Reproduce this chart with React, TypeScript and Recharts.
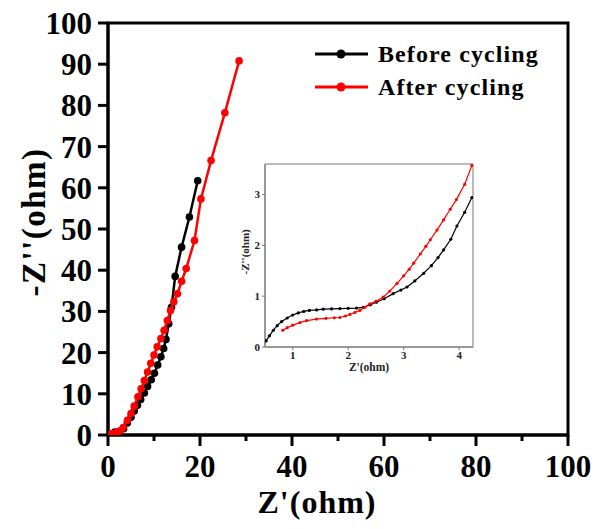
import React from "react";
import {
  Label,
  ReferenceArea,
  Scatter,
  ScatterChart,
  XAxis,
  YAxis,
} from "recharts";

const FONT = '"Liberation Serif", "Times New Roman", serif';

// main plot, Z' vs -Z'' (ohm)
const beforeMain = [
  { x: 0.52, y: 0.12 }, { x: 1.5, y: 0.73 }, { x: 2.5, y: 0.88 }, { x: 3.4, y: 1.5 },
  { x: 4.2, y: 2.9 }, { x: 5.0, y: 4.3 }, { x: 5.7, y: 5.8 }, { x: 6.4, y: 7.2 },
  { x: 7.1, y: 8.6 }, { x: 7.9, y: 10.2 }, { x: 8.6, y: 11.8 }, { x: 9.4, y: 13.4 },
  { x: 10.1, y: 15 }, { x: 10.8, y: 17 }, { x: 11.5, y: 19 }, { x: 12.1, y: 21 },
  { x: 12.6, y: 23.2 }, { x: 13.2, y: 27 }, { x: 13.8, y: 31 }, { x: 14.6, y: 38.5 },
  { x: 16.0, y: 45.6 }, { x: 17.7, y: 52.9 }, { x: 19.5, y: 61.7 },
];

const afterMain = [
  { x: 0.82, y: 0.33 }, { x: 1.8, y: 0.58 }, { x: 2.6, y: 0.98 }, { x: 3.3, y: 1.83 },
  { x: 4.23, y: 3.57 }, { x: 5.0, y: 5.2 }, { x: 5.7, y: 7.0 }, { x: 6.5, y: 9.3 },
  { x: 7.2, y: 11.2 }, { x: 7.9, y: 13.2 }, { x: 8.6, y: 15.3 }, { x: 9.3, y: 17.4 },
  { x: 10.0, y: 19.4 }, { x: 10.7, y: 21.4 }, { x: 11.5, y: 23.4 }, { x: 12.2, y: 25.4 },
  { x: 12.9, y: 27.8 }, { x: 13.6, y: 30.2 }, { x: 14.3, y: 32.3 }, { x: 15.1, y: 34.3 },
  { x: 16.0, y: 37.3 }, { x: 17.0, y: 40.4 }, { x: 18.8, y: 47.2 }, { x: 20.2, y: 57.3 },
  { x: 22.4, y: 66.6 }, { x: 25.4, y: 78.2 }, { x: 28.5, y: 90.8 },
];

// inset, high-frequency region
const beforeInset = [
  { x: 0.52, y: 0.12 }, { x: 0.58, y: 0.22 }, { x: 0.65, y: 0.33 }, { x: 0.72, y: 0.42 },
  { x: 0.8, y: 0.5 }, { x: 0.9, y: 0.57 }, { x: 1.0, y: 0.63 }, { x: 1.1, y: 0.67 },
  { x: 1.2, y: 0.7 }, { x: 1.3, y: 0.72 }, { x: 1.43, y: 0.73 }, { x: 1.55, y: 0.745 },
  { x: 1.7, y: 0.75 }, { x: 1.85, y: 0.755 }, { x: 2.0, y: 0.76 }, { x: 2.15, y: 0.765 },
  { x: 2.27, y: 0.78 }, { x: 2.4, y: 0.83 }, { x: 2.51, y: 0.88 }, { x: 2.65, y: 0.95 },
  { x: 2.81, y: 1.05 }, { x: 2.95, y: 1.12 }, { x: 3.06, y: 1.18 }, { x: 3.2, y: 1.3 },
  { x: 3.36, y: 1.45 }, { x: 3.5, y: 1.6 }, { x: 3.62, y: 1.76 }, { x: 3.72, y: 1.91 },
  { x: 3.85, y: 2.12 }, { x: 3.96, y: 2.38 }, { x: 4.1, y: 2.65 }, { x: 4.23, y: 2.94 },
];

const afterInset = [
  { x: 0.82, y: 0.33 }, { x: 0.9, y: 0.38 }, { x: 1.0, y: 0.43 }, { x: 1.13, y: 0.48 },
  { x: 1.25, y: 0.52 }, { x: 1.43, y: 0.55 }, { x: 1.6, y: 0.565 }, { x: 1.75, y: 0.575 },
  { x: 1.85, y: 0.58 }, { x: 1.95, y: 0.61 }, { x: 2.03, y: 0.64 }, { x: 2.12, y: 0.68 },
  { x: 2.21, y: 0.72 }, { x: 2.3, y: 0.78 }, { x: 2.39, y: 0.85 }, { x: 2.5, y: 0.9 },
  { x: 2.63, y: 0.98 }, { x: 2.75, y: 1.1 }, { x: 2.88, y: 1.25 }, { x: 3.0, y: 1.4 },
  { x: 3.1, y: 1.53 }, { x: 3.18, y: 1.65 }, { x: 3.3, y: 1.83 }, { x: 3.4, y: 1.98 },
  { x: 3.48, y: 2.11 }, { x: 3.6, y: 2.3 }, { x: 3.72, y: 2.5 }, { x: 3.84, y: 2.71 },
  { x: 3.95, y: 2.9 }, { x: 4.1, y: 3.2 }, { x: 4.23, y: 3.57 },
];

const xTicks = [0, 10, 20, 30, 40, 50, 60, 70, 80, 90, 100];
const yTicks = [0, 10, 20, 30, 40, 50, 60, 70, 80, 90, 100];
const insetXTicks = [1, 2, 3, 4];
const insetYTicks = [0, 1, 2, 3];

const seriesNames = ["Before cycling", "After cycling"];
const seriesColors = ["#000000", "#ff0000"];

const dot = (color: string, r: number) => (props: any) =>
  <circle cx={props.cx} cy={props.cy} r={r} fill={color} stroke="none" />;

// tickSize/tickMargin are 0 on this axis, so props.y is the axis line itself
function MainXTick(props: any) {
  const { x, y, payload } = props;
  const major = payload.value % 20 === 0;
  return (
    <g>
      <line x1={x} x2={x} y1={y} y2={y + (major ? 11 : 6)} stroke="#000" strokeWidth={3} />
      {major && (
        <text x={x} y={y + 42} textAnchor="middle" fontFamily={FONT} fontWeight="bold" fontSize={31} fill="#000">
          {payload.value}
        </text>
      )}
    </g>
  );
}

function LegendBox() {
  return (
    <svg width={240} height={70}>
      {seriesNames.map((name, i) => (
        <g key={name} transform={`translate(0, ${14 + i * 33})`}>
          <line x1={2} x2={55} y1={0} y2={0} stroke={seriesColors[i]} strokeWidth={3} />
          <circle cx={28} cy={0} r={4.5} fill={seriesColors[i]} />
          <text x={65} y={0} dy="0.35em" fontFamily={FONT} fontWeight="bold" fontSize={24} letterSpacing={1.1} fill="#000">
            {name}
          </text>
        </g>
      ))}
    </svg>
  );
}

function Inset() {
  const tickStyle = { fontFamily: FONT, fontWeight: "bold" as const, fontSize: 11, fill: "#222" };
  const axisStyle = { stroke: "#777", strokeWidth: 1 };
  return (
    <ScatterChart width={270} height={235} margin={{ top: 14, right: 12, bottom: 8, left: 0 }}>
      <XAxis
        type="number"
        dataKey="x"
        domain={[0.5, 4.25]}
        ticks={insetXTicks}
        interval={0}
        allowDataOverflow
        height={30}
        tickSize={3}
        tickMargin={1}
        tick={tickStyle}
        tickLine={axisStyle}
        axisLine={axisStyle}
      >
        <Label
          content={(p: any) => (
            <text x={p.viewBox.x + p.viewBox.width / 2} y={p.viewBox.y + 24} textAnchor="middle" fontFamily={FONT} fontWeight="bold" fontSize={11.5} fill="#222">
              Z'(ohm)
            </text>
          )}
        />
      </XAxis>
      <YAxis
        type="number"
        dataKey="y"
        domain={[0, 3.6]}
        ticks={insetYTicks}
        interval={0}
        allowDataOverflow
        width={50}
        tickSize={3}
        tickMargin={2}
        tick={tickStyle}
        tickLine={axisStyle}
        axisLine={axisStyle}
      >
        <Label
          content={(p: any) => {
            const cx = 30;
            const cy = p.viewBox.y + p.viewBox.height * 0.48;
            return (
              <text x={cx} y={cy} transform={`rotate(-90 ${cx} ${cy})`} textAnchor="middle" dominantBaseline="central" fontFamily={FONT} fontWeight="bold" fontSize={11} fill="#222">
                -Z''(ohm)
              </text>
            );
          }}
        />
      </YAxis>
      <ReferenceArea x1={0.5} x2={4.25} y1={0} y2={3.6} fill="#fff" fillOpacity={0} stroke="#777" strokeWidth={1} ifOverflow="visible" />
      <Scatter data={beforeInset} line={{ stroke: "#000", strokeWidth: 1.2 }} shape={dot("#000", 1.6)} isAnimationActive={false} />
      <Scatter data={afterInset} line={{ stroke: "#ff0000", strokeWidth: 1.2 }} shape={dot("#ff0000", 1.6)} isAnimationActive={false} />
    </ScatterChart>
  );
}

export default function App() {
  return (
    <div style={{ position: "absolute", left: 0, top: 0, width: 598, height: 529, background: "#fff" }}>
      <ScatterChart width={598} height={529} margin={{ top: 23, right: 30, bottom: 34, left: 0 }}>
        <XAxis
          type="number"
          dataKey="x"
          domain={[0, 100]}
          ticks={xTicks}
          interval={0}
          allowDataOverflow
          height={60}
          tickSize={0}
          tickMargin={0}
          tickLine={false}
          tick={<MainXTick />}
          axisLine={{ stroke: "#000", strokeWidth: 3 }}
        >
          <Label
            content={(p: any) => (
              <text x={317} y={p.viewBox.y + 78} textAnchor="middle" fontFamily={FONT} fontWeight="bold" fontSize={32} letterSpacing={1} fill="#000">
                Z'(ohm)
              </text>
            )}
          />
        </XAxis>
        <YAxis
          type="number"
          dataKey="y"
          domain={[0, 100]}
          ticks={yTicks}
          interval={0}
          allowDataOverflow
          width={108}
          tickSize={10}
          tickMargin={6}
          tick={{ fontFamily: FONT, fontWeight: "bold", fontSize: 31, fill: "#000" }}
          tickLine={{ stroke: "#000", strokeWidth: 3 }}
          axisLine={{ stroke: "#000", strokeWidth: 3 }}
        >
          <Label
            content={() => {
              const cx = 34;
              const cy = 222;
              return (
                <text x={cx} y={cy} transform={`rotate(-90 ${cx} ${cy})`} textAnchor="middle" dominantBaseline="central" fontFamily={FONT} fontWeight="bold" fontSize={33} letterSpacing={1.5} fill="#000">
                  -Z''(ohm)
                </text>
              );
            }}
          />
        </YAxis>
        <ReferenceArea x1={0} x2={100} y1={0} y2={100} fill="#fff" fillOpacity={0} stroke="#000" strokeWidth={3} ifOverflow="visible" />
        <Scatter data={beforeMain} line={{ stroke: "#000", strokeWidth: 2.5 }} shape={dot("#000", 3.8)} isAnimationActive={false} />
        <Scatter data={afterMain} line={{ stroke: "#ff0000", strokeWidth: 2.5 }} shape={dot("#ff0000", 3.8)} isAnimationActive={false} />
      </ScatterChart>
      <div style={{ position: "absolute", left: 313, top: 40 }}>
        <LegendBox />
      </div>
      <div style={{ position: "absolute", left: 215, top: 150 }}>
        <Inset />
      </div>
    </div>
  );
}
